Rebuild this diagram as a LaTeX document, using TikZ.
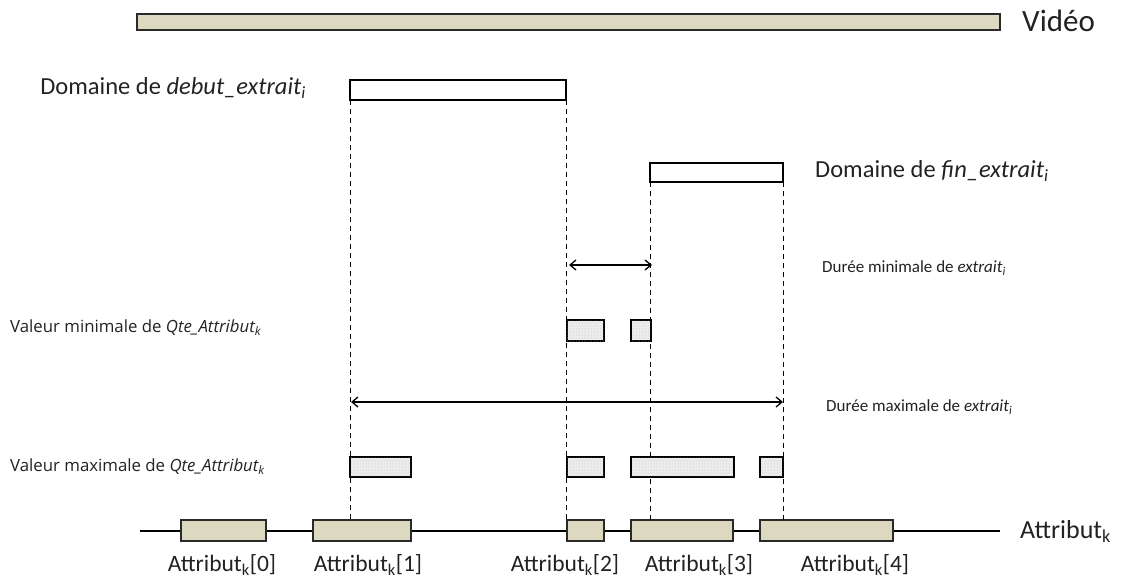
\documentclass[tikz,border=0pt]{standalone}
\usepackage{fontspec}
\setmainfont{Carlito}
\newfontfamily\widefont{Open Sans}
\usetikzlibrary{arrows.meta,patterns}
\definecolor{tan}{HTML}{DDD8C0}
\definecolor{edge}{HTML}{2A2A2A}
\definecolor{ink}{HTML}{222222}
\tikzset{
  barbox/.style={draw=edge,line width=1.6pt,fill=tan},
  dombox/.style={draw=black,line width=2.6pt,fill=white},
  qtybox/.style={draw=black,line width=2.6pt,fill=gray!14,postaction={pattern=dots,pattern color=gray!60}},
  guide/.style={line width=1pt,dash pattern=on 5pt off 4pt},
  spanarrow/.style={{Straight Barb[length=6pt,width=10pt]}-{Straight Barb[length=6pt,width=10pt]},line width=1.3pt},
  every node/.style={text=ink,inner sep=0pt},
  hugetext/.style={font=\fontsize{31}{35}\selectfont},
  bigtext/.style={font=\fontsize{24.5}{28}\selectfont},
  midtext/.style={font=\fontsize{23.5}{27}\selectfont},
  durtext/.style={font=\fontsize{17}{20}\selectfont},
  valtext/.style={font=\widefont\fontsize{16.8}{20}\selectfont},
}
\begin{document}
\begin{tikzpicture}[x=1pt,y=-1pt]
\useasboundingbox (0,0) rectangle (1127,581);
% video bar
\draw[barbox] (137,14) rectangle (1000,30);
\node[hugetext,anchor=west] (video) at (1022,21) {Vidéo};
% domains
\draw[dombox] (350,80) rectangle (566,100);
\coordinate (d1) at (350,100); \coordinate (d2) at (566,100);
\node[bigtext,anchor=east] (ldeb) at (306,88) {Domaine de \textit{debut\_extrait\textsubscript{i}}};
\draw[dombox] (650,163) rectangle (783,182);
\coordinate (f1) at (650,182); \coordinate (f2) at (783,182);
\node[bigtext,anchor=west] (lfin) at (815,171) {Domaine de \textit{fin\_extrait\textsubscript{i}}};
% attribute axis
\coordinate (axL) at (140,531); \coordinate (axR) at (1000,531);
\draw[line width=1.8pt] (axL) -- (axR);
\node[anchor=west,font=\fontsize{26}{30}\selectfont] (lattr) at (1020,531) {Attribut\textsubscript{k}};
\foreach \a/\b/\n in {181/266/0,313/411/1,567/604/2,631/733/3,760/893/4}{
  \draw[barbox] (\a,520) rectangle (\b,541);
}
\node[midtext] (l0) at (222,565) {Attribut\textsubscript{k}[0]};
\node[midtext] (l1) at (368,565) {Attribut\textsubscript{k}[1]};
\node[midtext] (l2) at (565,565) {Attribut\textsubscript{k}[2]};
\node[midtext] (l3) at (699,565) {Attribut\textsubscript{k}[3]};
\node[midtext] (l4) at (855,565) {Attribut\textsubscript{k}[4]};
% guides
\coordinate (g1) at (350,520); \coordinate (g2) at (566,520);
\coordinate (g3) at (650,520); \coordinate (g4) at (783,520);
\draw[guide] (d1) -- (g1);
\draw[guide] (d2) -- (g2);
\draw[guide] (f1) -- (g3);
\draw[guide] (f2) -- (g4);
% durations
\coordinate (m1) at (569,265); \coordinate (m2) at (652,265);
\draw[spanarrow] (m1) -- (m2);
\node[durtext,anchor=west] (lmin) at (822,268) {Durée minimale de \textit{extrait\textsubscript{i}}};
\coordinate (M1) at (351,402); \coordinate (M2) at (783,402);
\draw[spanarrow] (M1) -- (M2);
\node[durtext,anchor=west] (lmax) at (826,407) {Durée maximale de \textit{extrait\textsubscript{i}}};
% quantity boxes
\draw[qtybox] (567,320) rectangle (604,341);
\draw[qtybox] (631,320) rectangle (651,341);
\node[valtext,anchor=west] (lqmin) at (10,328) {Valeur minimale de \textit{Qte\_Attribut\textsubscript{k}}};
\foreach \a/\b in {350/411,567/604,631/734,760/783}{
  \draw[qtybox] (\a,457) rectangle (\b,477);
}
\node[valtext,anchor=west] (lqmax) at (10,467) {Valeur maximale de \textit{Qte\_Attribut\textsubscript{k}}};
\end{tikzpicture}
\end{document}
